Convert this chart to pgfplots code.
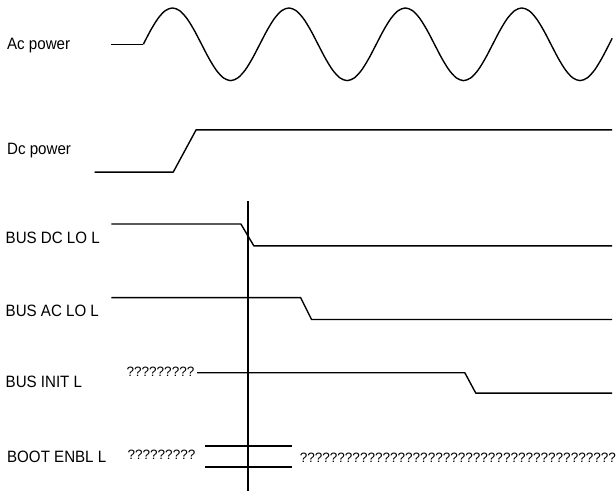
\documentclass[border=0pt]{standalone}
\usepackage{fontspec}
\setmainfont{Liberation Sans}[FakeStretch=0.92]
\newfontfamily\qfont{Liberation Sans}
\usepackage{pgfplots}
\pgfplotsset{compat=1.18}
\tikzset{
  lbl/.style={anchor=base west, inner sep=0pt, font=\fontsize{16.5}{18}\selectfont},
  qm/.style={anchor=base west, inner sep=0pt, font=\qfont\fontsize{13.6}{15}\selectfont},
  sig/.style={black, solid, line width=1.4pt, line join=round, mark=none},
}
\begin{document}
\begin{tikzpicture}
\begin{axis}[
  scale only axis, width=616pt, height=494pt,
  xmin=0, xmax=616, ymin=-494, ymax=0,
  hide axis, clip=false,
]
\path (rel axis cs:0,0) rectangle (rel axis cs:1,1);
% Ac power
\addplot[sig] coordinates {(112,-44.5) (144,-44.5)};
\addplot[sig, smooth] coordinates {
(144.00,-44.5) (151.31,-30.53) (158.63,-18.69) (165.94,-10.78) (173.25,-8.0) (180.56,-10.78) (187.88,-18.69) (195.19,-30.53)
(202.50,-44.5) (209.81,-58.47) (217.13,-70.31) (224.44,-78.22) (231.75,-81.0) (239.06,-78.22) (246.38,-70.31) (253.69,-58.47)
(261.00,-44.5) (268.31,-30.53) (275.63,-18.69) (282.94,-10.78) (290.25,-8.0) (297.56,-10.78) (304.88,-18.69) (312.19,-30.53)
(319.50,-44.5) (326.81,-58.47) (334.13,-70.31) (341.44,-78.22) (348.75,-81.0) (356.06,-78.22) (363.38,-70.31) (370.69,-58.47)
(378.00,-44.5) (385.31,-30.53) (392.63,-18.69) (399.94,-10.78) (407.25,-8.0) (414.56,-10.78) (421.88,-18.69) (429.19,-30.53)
(436.50,-44.5) (443.81,-58.47) (451.13,-70.31) (458.44,-78.22) (465.75,-81.0) (473.06,-78.22) (480.38,-70.31) (487.69,-58.47)
(495.00,-44.5) (502.31,-30.53) (509.63,-18.69) (516.94,-10.78) (524.25,-8.0) (531.56,-10.78) (538.88,-18.69) (546.19,-30.53)
(553.50,-44.5) (560.81,-58.47) (568.13,-70.31) (575.44,-78.22) (582.75,-81.0) (590.06,-78.22) (597.38,-70.31) (604.69,-58.47)
(612.00,-44.5) (615.00,-38.5)};
% Dc power
\addplot[sig] coordinates {(95,-173) (174,-173) (197,-130.5) (615,-130.5)};
% BUS DC LO L
\addplot[sig] coordinates {(112,-225) (242,-225) (255,-247) (615,-247)};
% BUS AC LO L
\addplot[sig] coordinates {(112,-299) (302,-299) (313,-321) (615,-321)};
% BUS INIT L
\addplot[sig] coordinates {(198,-374.5) (467,-374.5) (478,-395) (615,-395)};
% BOOT ENBL L
\addplot[sig] coordinates {(206,-448) (293,-448)};
\addplot[sig] coordinates {(206,-469) (293,-469)};
% vertical marker
\addplot[sig] coordinates {(249,-202) (249,-493)};
% labels
\node[lbl] at (axis cs:7,-49.5) {Ac power};
\node[lbl] at (axis cs:7,-155) {Dc power};
\node[lbl] at (axis cs:5.5,-244.3) {BUS DC LO L};
\node[lbl] at (axis cs:5.5,-318) {BUS AC LO L};
\node[lbl] at (axis cs:5.5,-389.5) {BUS INIT L};
\node[lbl] at (axis cs:7,-465) {BOOT ENBL L};
\node[qm] at (axis cs:127,-378) {?????????};
\node[qm] at (axis cs:128,-462) {?????????};
\node[qm] at (axis cs:301,-465) {??????????????????????????????????????????};
\end{axis}
\end{tikzpicture}
\end{document}
